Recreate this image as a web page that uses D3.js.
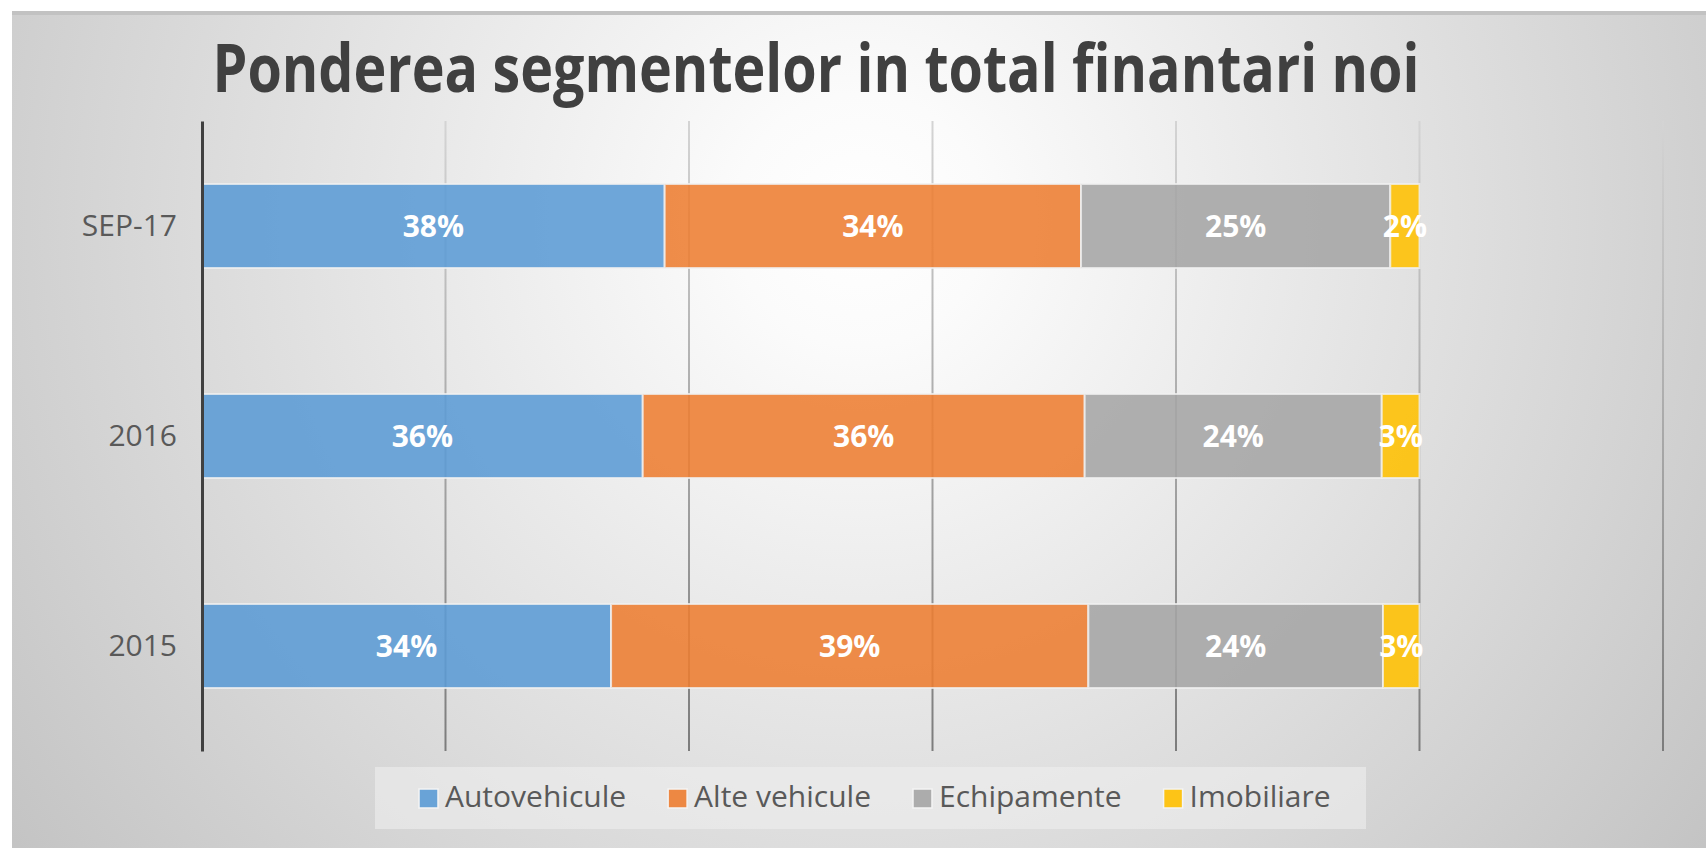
<html>
  <head>
    <meta charset="utf-8" />
    <title>Ponderea segmentelor in total finantari noi</title>
    <style>
      body { margin: 0; background: #ffffff; }
      text { font-family: "Open Sans", sans-serif; }
    </style>
  </head>
  <body>
    <script src="https://cdnjs.cloudflare.com/ajax/libs/d3/7.8.5/d3.min.js" charset="utf-8"></script>
    <script>
      // data (shares of new financing)
      const categories = ["SEP-17", "2016", "2015"];
      const seriesNames = ["Autovehicule", "Alte vehicule", "Echipamente", "Imobiliare"];
      const autovehicule = [0.380, 0.362, 0.336];
      const alteVehicule = [0.342, 0.363, 0.392];
      const echipamente = [0.254, 0.244, 0.242];
      const imobiliare = [0.024, 0.031, 0.030];
      const xTicks = [0, 0.2, 0.4, 0.6, 0.8, 1.0, 1.2];
      const colors = ["#5b9bd5", "#ed7d31", "#a5a5a5", "#ffc000"];

      const width = 1706;
      const height = 848;

      let svg = d3
        .select("body")
        .append("svg")
        .attr("width", width)
        .attr("height", height);

      let defs = svg.append("defs");
      let bg = defs
        .append("radialGradient")
        .attr("id", "bg")
        .attr("gradientUnits", "userSpaceOnUse")
        .attr("cx", 860)
        .attr("cy", 220)
        .attr("r", 1050);
      bg.append("stop").attr("offset", 0).attr("stop-color", "#ffffff");
      bg.append("stop").attr("offset", 0.12).attr("stop-color", "#fbfbfb");
      bg.append("stop").attr("offset", 1).attr("stop-color", "#c4c4c4");

      let gridGrad = defs
        .append("linearGradient")
        .attr("id", "gridGrad")
        .attr("gradientUnits", "userSpaceOnUse")
        .attr("x1", 0)
        .attr("x2", 0)
        .attr("y1", 121)
        .attr("y2", 751);
      gridGrad.append("stop").attr("offset", 0).attr("stop-color", "#d4d4d4");
      gridGrad.append("stop").attr("offset", 1).attr("stop-color", "#7c7c7c");

      // chart area background + top border
      svg.append("rect")
        .attr("x", 12).attr("y", 11)
        .attr("width", width - 12).attr("height", height - 11)
        .attr("fill", "url(#bg)");
      svg.append("rect")
        .attr("x", 12).attr("y", 11)
        .attr("width", width - 12).attr("height", 4)
        .attr("fill", "#c2c2c2");

      // title
      svg.append("text")
        .attr("x", 816)
        .attr("y", 92)
        .attr("text-anchor", "middle")
        .attr("font-size", 66)
        .attr("font-weight", "bold")
        .attr("fill", "#404040")
        .attr("textLength", 1207)
        .attr("lengthAdjust", "spacingAndGlyphs")
        .text("Ponderea segmentelor in total finantari noi");

      let x = d3.scaleLinear().domain([0, 1.2]).range([202, 1663]);
      let y = d3
        .scaleBand()
        .domain(categories)
        .range([121, 751])
        .paddingInner(0.6)
        .paddingOuter(0.3);

      // vertical gridlines
      svg.append("g")
        .selectAll("line")
        .data(xTicks.slice(1))
        .join("line")
        .attr("x1", d => x(d))
        .attr("x2", d => x(d))
        .attr("y1", 121)
        .attr("y2", 751)
        .attr("stroke", "url(#gridGrad)")
        .attr("stroke-width", 2);

      // stacked series
      let series = [autovehicule, alteVehicule, echipamente, imobiliare];
      let rows = categories.map((c, i) => {
        let row = { cat: c };
        seriesNames.forEach((s, j) => (row[s] = series[j][i]));
        return row;
      });
      let stacked = d3.stack().keys(seriesNames)(rows);

      let layers = svg
        .append("g")
        .selectAll("g")
        .data(stacked)
        .join("g")
        .attr("fill", (d, i) => colors[i]);

      layers
        .selectAll("rect")
        .data(d => d)
        .join("rect")
        .attr("x", d => x(d[0]))
        .attr("y", d => y(d.data.cat))
        .attr("width", d => x(d[1]) - x(d[0]))
        .attr("height", y.bandwidth())
        .attr("fill-opacity", 0.88)
        .attr("stroke", "#f0f0f0")
        .attr("stroke-opacity", 0.8)
        .attr("stroke-width", 2);

      layers
        .selectAll("text")
        .data(d => d)
        .join("text")
        .attr("x", d => (x(d[0]) + x(d[1])) / 2)
        .attr("y", d => y(d.data.cat) + y.bandwidth() / 2)
        .attr("dy", "0.36em")
        .attr("text-anchor", "middle")
        .attr("font-size", 30)
        .attr("font-weight", "bold")
        .attr("fill", "#ffffff")
        .text(d => Math.round((d[1] - d[0]) * 100) + "%");

      // category axis
      let yAxis = svg
        .append("g")
        .attr("transform", "translate(202,0)")
        .call(d3.axisLeft(y).tickSize(0).tickSizeOuter(0).tickPadding(25));
      yAxis.select(".domain").attr("stroke", "#404040").attr("stroke-width", 3);
      yAxis
        .selectAll("text")
        .attr("font-size", 30)
        .attr("fill", "#595959")
        .style("font-family", '"Open Sans", sans-serif');

      // legend
      svg.append("rect")
        .attr("x", 375).attr("y", 767)
        .attr("width", 991).attr("height", 62)
        .attr("fill", "#eeeeee")
        .attr("fill-opacity", 0.6);

      let lx = 419;
      seriesNames.forEach((name, i) => {
        svg.append("rect")
          .attr("x", lx).attr("y", 789)
          .attr("width", 19).attr("height", 19)
          .attr("fill", colors[i])
          .attr("fill-opacity", 0.9)
          .attr("stroke", "#f4f4f4")
          .attr("stroke-width", 1.5);
        let t = svg.append("text")
          .attr("x", lx + 26)
          .attr("y", 807)
          .attr("font-size", 30)
          .attr("fill", "#595959")
          .text(name);
        lx += 26 + t.node().getComputedTextLength() + 42;
      });
    </script>
  </body>
</html>
